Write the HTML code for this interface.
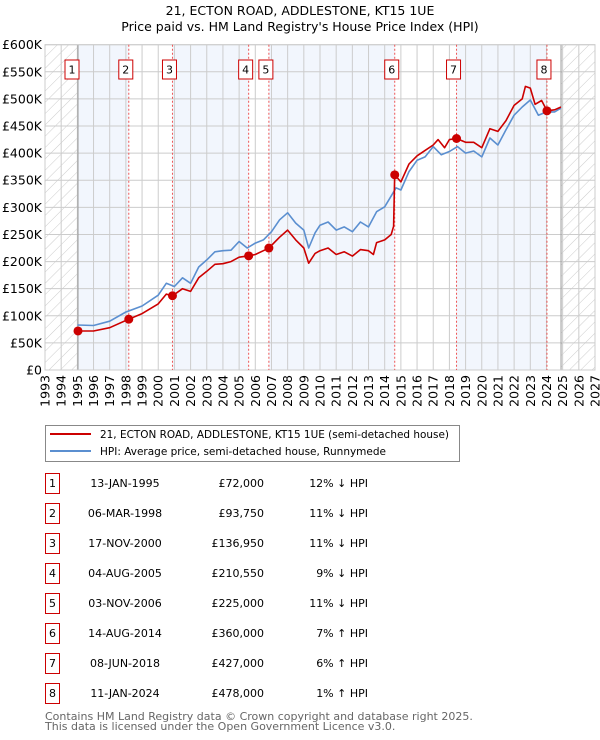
<!DOCTYPE html>
<html><head><meta charset="utf-8">
<style>
body{margin:0;background:#fff;font-family:"DejaVu Sans","Liberation Sans",sans-serif;}
#wrap{position:relative;width:600px;height:740px;overflow:hidden;}
svg text{font-family:"DejaVu Sans","Liberation Sans",sans-serif;}
</style></head>
<body>
<div id="wrap">
<svg id="chart" width="600" height="740">
<defs>
<pattern id="hatch" width="8" height="8" patternUnits="userSpaceOnUse" patternTransform="rotate(45)">
<line x1="0" y1="0" x2="0" y2="8" stroke="#ccc" stroke-width="1"/>
</pattern>
</defs>
<text x="300" y="15" text-anchor="middle" font-size="12.5" fill="#000">21, ECTON ROAD, ADDLESTONE, KT15 1UE</text>
<text x="300" y="31" text-anchor="middle" font-size="12.5" fill="#000">Price paid vs. HM Land Registry's House Price Index (HPI)</text>
<g id="plot"></g>
<g id="legend">
<rect x="45.5" y="425.5" width="414" height="36" fill="#fff" stroke="#888"/>
<line x1="50" y1="434" x2="91" y2="434" stroke="#cc0000" stroke-width="2"/>
<text x="100" y="438" font-size="10.5" textLength="349" lengthAdjust="spacingAndGlyphs">21, ECTON ROAD, ADDLESTONE, KT15 1UE (semi-detached house)</text>
<line x1="50" y1="451" x2="91" y2="451" stroke="#5b8fd0" stroke-width="2"/>
<text x="100" y="455" font-size="10.5" textLength="286" lengthAdjust="spacingAndGlyphs">HPI: Average price, semi-detached house, Runnymede</text>
</g>
<g id="table"></g>
<text x="45" y="720" font-size="11" fill="#666">Contains HM Land Registry data © Crown copyright and database right 2025.</text>
<text x="45" y="730" font-size="11" fill="#666">This data is licensed under the Open Government Licence v3.0.</text>
</svg>
</div>
<script>
const yearTicks=[1993,1994,1995,1996,1997,1998,1999,2000,2001,2002,2003,2004,2005,2006,2007,2008,2009,2010,2011,2012,2013,2014,2015,2016,2017,2018,2019,2020,2021,2022,2023,2024,2025,2026,2027];
const priceTicks=[0,50000,100000,150000,200000,250000,300000,350000,400000,450000,500000,550000,600000];
const priceTickLabels=["£0","£50K","£100K","£150K","£200K","£250K","£300K","£350K","£400K","£450K","£500K","£550K","£600K"];
const hpiDates=[1995.0,1996,1997,1998,1999,2000,2000.5,2001,2001.5,2002,2002.5,2003,2003.5,2004,2004.5,2005,2005.5,2006,2006.5,2007,2007.5,2008,2008.5,2009,2009.3,2009.7,2010,2010.5,2011,2011.5,2012,2012.5,2013,2013.5,2014,2014.5,2014.7,2015,2015.5,2016,2016.5,2017,2017.5,2018,2018.5,2019,2019.5,2020,2020.5,2021,2021.5,2022,2022.5,2023,2023.5,2024,2024.5,2024.9];
const hpiValues=[83000,82000,90000,107000,118000,138000,160000,154000,170000,160000,190000,203000,218000,220000,221000,237000,225000,234000,240000,255000,277000,290000,271000,258000,225000,253000,267000,273000,258000,264000,255000,273000,264000,292000,301000,326000,336000,332000,366000,387000,393000,412000,397000,403000,412000,400000,404000,393000,428000,415000,443000,470000,485000,498000,470000,476000,476000,483000];
const priceDates=[1995.04,1996,1997,1998.18,1999,2000,2000.5,2000.88,2001.5,2002,2002.5,2003,2003.5,2004,2004.5,2005,2005.59,2006,2006.5,2006.84,2007.5,2008,2008.5,2009,2009.3,2009.7,2010,2010.5,2011,2011.5,2012,2012.5,2013,2013.3,2013.5,2014,2014.4,2014.55,2014.62,2015,2015.5,2016,2016.5,2017,2017.3,2017.7,2018,2018.44,2019,2019.5,2020,2020.5,2021,2021.5,2022,2022.5,2022.7,2023,2023.3,2023.7,2024.03,2024.5,2024.9];
const priceValues=[72000,72000,78000,93750,104000,122000,140000,136950,150000,145000,170000,182000,195000,196000,200000,208000,210550,213000,220000,225000,245000,258000,240000,225000,197000,215000,220000,225000,213000,218000,210000,222000,220000,213000,235000,240000,250000,265000,360000,347000,380000,395000,405000,415000,425000,410000,425000,427000,420000,420000,410000,445000,440000,460000,488000,500000,523000,520000,490000,497000,478000,480000,485000];
const saleIds=["1","2","3","4","5","6","7","8"];
const saleDates=[1995.04,1998.18,2000.88,2005.59,2006.84,2014.62,2018.44,2024.03];
const salePrices=[72000,93750,136950,210550,225000,360000,427000,478000];
const saleDateLabels=["13-JAN-1995","06-MAR-1998","17-NOV-2000","04-AUG-2005","03-NOV-2006","14-AUG-2014","08-JUN-2018","11-JAN-2024"];
const salePriceLabels=["£72,000","£93,750","£136,950","£210,550","£225,000","£360,000","£427,000","£478,000"];
const saleHpiLabels=["12% ↓ HPI","11% ↓ HPI","11% ↓ HPI","9% ↓ HPI","11% ↓ HPI","7% ↑ HPI","6% ↑ HPI","1% ↑ HPI"];
const dataEnd=2024.9;

const NS="http://www.w3.org/2000/svg";
const L=45,R=595,T=44.7,B=370;
const X=v=>L+(v-1993)/(2027-1993)*(R-L);
const Y=v=>B-v/600000*(B-T);
function mk(tag,attrs,parent){const e=document.createElementNS(NS,tag);for(const k in attrs)e.setAttribute(k,attrs[k]);parent.appendChild(e);return e;}
const plot=document.getElementById('plot');
mk('rect',{x:L,y:T,width:R-L,height:B-T,fill:'#fff'},plot);
const bandEdges=saleDates.concat([dataEnd]);
for(let i=0;i<bandEdges.length-1;i+=2){
  const b=mk('rect',{x:X(bandEdges[i]),y:T,width:X(bandEdges[i+1])-X(bandEdges[i]),height:B-T,fill:'#eef3fc',opacity:0.75},plot);
  
  
}
const h1=mk('rect',{x:L,y:T,width:X(saleDates[0])-L,height:B-T,fill:'url(#hatch)'},plot);


const h2=mk('rect',{x:X(dataEnd),y:T,width:R-X(dataEnd),height:B-T,fill:'url(#hatch)'},plot);


yearTicks.forEach(yr=>{
  mk('line',{x1:X(yr),y1:T,x2:X(yr),y2:B,stroke:'#ccc','stroke-width':1},plot);
  const t=mk('text',{x:0,y:0,'font-size':12.5,'text-anchor':'end',transform:`translate(${X(yr)+4.5},${B+5}) rotate(-90)`},plot);
  t.textContent=yr;
  
  
});
priceTicks.forEach((p,i)=>{
  mk('line',{x1:L,y1:Y(p),x2:R,y2:Y(p),stroke:'#ccc','stroke-width':1},plot);
  const t=mk('text',{x:L-3,y:Y(p)+4.5,'font-size':12.5,'text-anchor':'end'},plot);
  t.textContent=priceTickLabels[i];
  
  
});
mk('line',{x1:X(saleDates[0]),y1:T,x2:X(saleDates[0]),y2:B,stroke:'#999','stroke-width':1},plot);
mk('line',{x1:X(dataEnd),y1:T,x2:X(dataEnd),y2:B,stroke:'#999','stroke-width':1},plot);
mk('rect',{x:L,y:T,width:R-L,height:B-T,fill:'none',stroke:'#ccc'},plot);
saleDates.forEach((d,i)=>{
  if(i>0){const v=mk('line',{x1:X(d),y1:T,x2:X(d),y2:B,stroke:'#ee5555','stroke-width':1,'stroke-dasharray':'2,2'},plot);
  
  }
  const g=mk('g',{},plot);
  
  
  mk('rect',{x:X(d)-10+(i==0?-3:0),y:60,width:14,height:19,fill:'#fff',stroke:'#cc0000'},g);
  const t=mk('text',{x:X(d)-3+(i==0?-3:0),y:73.5,'font-size':11,'text-anchor':'middle'},g);
  t.textContent=saleIds[i];
});
function path(xs,ys,color,name){
  let d='';xs.forEach((x,i)=>{d+=(i?'L':'M')+X(x).toFixed(1)+','+Y(ys[i]).toFixed(1);});
  const p=mk('path',{d:d,fill:'none',stroke:color,'stroke-width':1.6,'stroke-linejoin':'round'},plot);
  
  
}
path(hpiDates,hpiValues,'#5b8fd0','hpi-line');
path(priceDates,priceValues,'#cc0000','price-paid-line');
saleDates.forEach((d,i)=>{
  const c=mk('circle',{cx:X(d),cy:Y(salePrices[i]),r:4.5,fill:'#cc0000'},plot);
  
  
});
const tbl=document.getElementById('table');
saleIds.forEach((id,i)=>{
  const cy=483+i*30;
  const g=mk('g',{},tbl);
  
  
  mk('rect',{x:45.5,y:cy-9.5,width:14,height:20,fill:'#fff',stroke:'#cc0000'},g);
  const a=mk('text',{x:52.5,y:cy+4,'font-size':11,'text-anchor':'middle'},g);a.textContent=id;
  const b=mk('text',{x:125,y:cy+4,'font-size':11,'text-anchor':'middle'},g);b.textContent=saleDateLabels[i];
  const c=mk('text',{x:264,y:cy+4,'font-size':11,'text-anchor':'end'},g);c.textContent=salePriceLabels[i];
  const e=mk('text',{x:368,y:cy+4,'font-size':11,'text-anchor':'end'},g);e.textContent=saleHpiLabels[i];
});
</script>
</body></html>
